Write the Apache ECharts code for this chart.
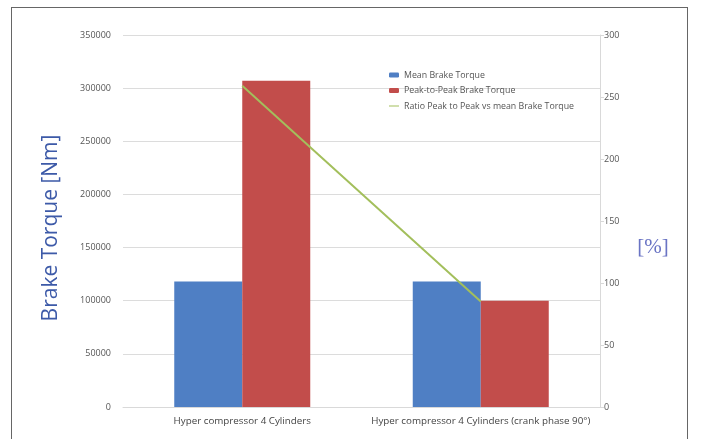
<!DOCTYPE html>
<html><head><meta charset="utf-8">
<script src="https://cdn.jsdelivr.net/npm/echarts@6/dist/echarts.min.js"></script>
<style>
html,body{margin:0;padding:0;background:#fff;}
#frame{position:absolute;left:11px;top:7px;width:677px;height:440px;border:1px solid #666;box-sizing:border-box;}
#c{position:absolute;left:0;top:0;width:702px;height:439px;}
</style></head>
<body><div id="frame"></div><div id="c"></div>
<script>
const categories = ['Hyper compressor 4 Cylinders', 'Hyper compressor 4 Cylinders (crank phase 90°)'];
const meanTorque = [118000, 118000];
const peakTorque = [307000, 100000];
const ratioPct = [259, 85];
const seriesNames = ['Mean Brake Torque', 'Peak-to-Peak Brake Torque', 'Ratio Peak to Peak vs mean Brake Torque'];
const leftTitle = 'Brake Torque [Nm]';
const rightTitle = '[%]';

const chart = echarts.init(document.getElementById('c'), null, {renderer:'canvas'});
const labelFont = {fontFamily:'Open Sans', fontSize:9, color:'#555'};
const lineIcon = 'path://M0,0H0.01V0.01H0Z M0,4.2H20V5.8H0Z M19.99,9.99H20V10H19.99Z';
chart.setOption({
  animation:false,
  backgroundColor:'transparent',
  grid:{left:123, right:102, top:35, bottom:32},
  legend:{
    orient:'vertical', left:384, top:65,
    itemWidth:10, itemHeight:5, itemGap:5.5,
    textStyle:{fontFamily:'Open Sans', fontSize:8.8, color:'#555', lineHeight:10},
    data:[seriesNames[0], seriesNames[1],
          {name:seriesNames[2], icon:lineIcon, itemStyle:{color:'#a3bf5c'}}]
  },
  graphic:[
    {type:'text', x:51, y:228, rotation:Math.PI/2,
     style:{text:leftTitle, fontFamily:'Open Sans', fontSize:21, fill:'#3d5aa8', align:'center', verticalAlign:'middle'}},
    {type:'text', x:653, y:247,
     style:{text:rightTitle, fontFamily:'Liberation Serif', fontSize:21, fill:'#6a74c4', align:'center', verticalAlign:'middle'}}
  ],
  xAxis:{
    type:'category', data:categories,
    axisLine:{lineStyle:{color:'#d9d9d9'}},
    axisTick:{show:false},
    axisLabel:Object.assign({margin:9, interval:0}, labelFont, {fontSize:9.8, color:'#444'})
  },
  yAxis:[
    {type:'value', min:0, max:350000, interval:50000,
     axisLine:{show:false}, axisTick:{show:false},
     splitLine:{lineStyle:{color:'#dcdcdc'}},
     axisLabel:Object.assign({margin:12, formatter:function(v){return String(v);}}, labelFont)},
    {type:'value', min:0, max:300, interval:50, position:'right',
     axisLine:{show:true, lineStyle:{color:'#d9d9d9'}},
     axisTick:{show:true, length:4, lineStyle:{color:'#d9d9d9'}},
     splitLine:{show:false},
     axisLabel:Object.assign({margin:4}, labelFont)}
  ],
  series:[
    {name:seriesNames[0], type:'bar', data:meanTorque, barWidth:68, barGap:'0%',
     itemStyle:{color:'#4f7fc4'}},
    {name:seriesNames[1], type:'bar', data:peakTorque, barWidth:68,
     itemStyle:{color:'#c24d4b'}},
    {name:seriesNames[2], type:'line', yAxisIndex:1, data:ratioPct, symbol:'none',
     lineStyle:{color:'#a3bf5c', width:2}, itemStyle:{color:'#a3bf5c'}}
  ]
});
</script></body></html>
